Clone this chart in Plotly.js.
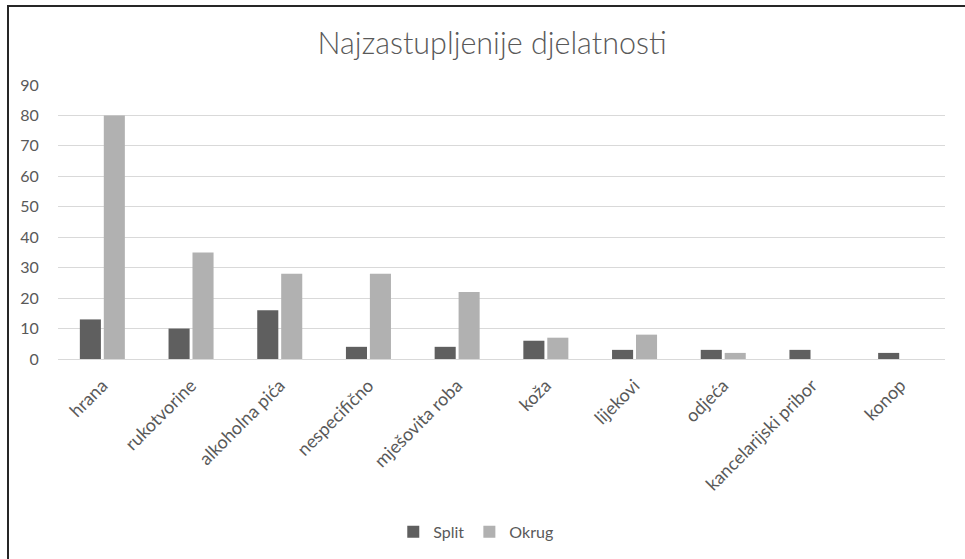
<!DOCTYPE html>
<html>
<head>
<meta charset="utf-8">
<script src="https://cdn.plot.ly/plotly-3.0.1.min.js"></script>
<style>
html,body{margin:0;padding:0;background:#fff;}
#chart{position:absolute;left:0;top:0;width:965px;height:559px;}
#frame{position:absolute;left:7px;top:5px;width:1000px;height:1000px;border-left:2px solid #262626;border-top:2px solid #262626;pointer-events:none;}
</style>
</head>
<body>
<div id="chart"></div>
<div id="frame"></div>
<script>
const categories = ["hrana","rukotvorine","alkoholna pića","nespecifično","mješovita roba","koža","lijekovi","odjeća","kancelarijski pribor","konop"];
const split = [13,10,16,4,4,6,3,3,3,2];
const okrug = [80,35,28,28,22,7,8,2,0,0];
const yTicks = [0,10,20,30,40,50,60,70,80,90];

const font = "Lato, 'Open Sans', sans-serif";
const traces = [
  {type:"bar", name:"Split", x:categories, y:split, marker:{color:"#5f5f5f"}},
  {type:"bar", name:"Okrug", x:categories, y:okrug, marker:{color:"#b1b1b1"}}
];
const layout = {
  width:965, height:559,
  margin:{l:58, r:20, t:85, b:199},
  paper_bgcolor:"#fff", plot_bgcolor:"#fff",
  title:{text:"Najzastupljenije djelatnosti", x:0.51, xanchor:"center", y:0.923, yanchor:"middle", font:{family:"'Lato Light', Lato, sans-serif", weight:300, size:30.5, color:"#595959"}},
  barmode:"group", bargap:0.46, bargroupgap:0.12,
  xaxis:{type:"category", tickangle:-45, tickfont:{family:font, size:18, color:"#595959"}, showgrid:false, showline:false, ticks:"outside", ticklen:8, tickcolor:"rgba(0,0,0,0)", automargin:false},
  yaxis:{range:[0,90], tickvals:yTicks, ticktext:yTicks.map(String), tickfont:{family:font, size:16, color:"#595959"}, gridcolor:"#d9d9d9", gridwidth:1, zeroline:true, zerolinecolor:"#d9d9d9", zerolinewidth:1, showline:false, ticks:"outside", ticklen:15, tickcolor:"rgba(0,0,0,0)", automargin:false},
  legend:{orientation:"h", x:0.471, xanchor:"center", y:-0.625, yanchor:"middle", font:{family:font, size:16, color:"#595959"}, itemwidth:30, traceorder:"normal"},
  showlegend:true
};
Plotly.newPlot("chart", traces, layout, {staticPlot:true});
</script>
</body>
</html>
